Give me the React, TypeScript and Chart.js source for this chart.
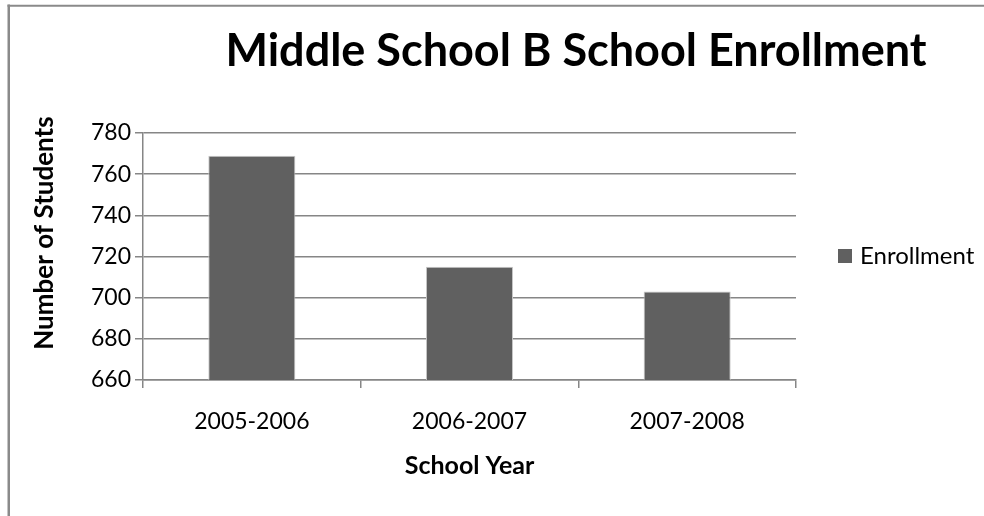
import { useEffect, useRef } from "react";
import { Chart, registerables } from "chart.js";

Chart.register(...registerables);

const chartTitle = "Middle School B School Enrollment";
const xAxisTitle = "School Year";
const yAxisTitle = "Number of Students";
const seriesName = "Enrollment";
const schoolYears = ["2005-2006", "2006-2007", "2007-2008"];
const enrollment = [769, 715, 703];
const yMin = 660;
const yMax = 780;
const yStep = 20;

const FONT = "Lato, 'Open Sans', sans-serif";
const BAR = "#606060";
const GRID = "#868686";

export default function App() {
  const ref = useRef<HTMLCanvasElement>(null);

  useEffect(() => {
    if (!ref.current) return;
    const decor = {
      id: "decor",
      beforeDraw(chart: any) {
        const ctx = chart.ctx;
        ctx.save();
        ctx.strokeStyle = "#8a8a8a";
        ctx.lineWidth = 2.5;
        ctx.beginPath();
        ctx.moveTo(8.75, 4.5);
        ctx.lineTo(8.75, 516);
        ctx.stroke();
        ctx.lineWidth = 2;
        ctx.beginPath();
        ctx.moveTo(7.5, 5.75);
        ctx.lineTo(984, 5.75);
        ctx.stroke();
        ctx.restore();
      },
      afterDraw(chart: any) {
        const ctx = chart.ctx;
        ctx.save();
        ctx.fillStyle = "#000";
        ctx.textAlign = "center";
        ctx.textBaseline = "middle";
        ctx.font = `bold 45px ${FONT}`;
        ctx.fillText(chartTitle, 576, 51);

        ctx.save();
        ctx.translate(45, 233);
        ctx.rotate(-Math.PI / 2);
        ctx.font = `bold 26px ${FONT}`;
        ctx.fillText(yAxisTitle, 0, 0);
        ctx.restore();

        const ds = chart.data.datasets[0];
        ctx.fillStyle = BAR;
        ctx.fillRect(838, 249, 14, 14);
        ctx.fillStyle = "#000";
        ctx.textAlign = "left";
        ctx.font = `24px ${FONT}`;
        ctx.fillText(ds.label, 860, 256);
        ctx.restore();
      },
    };

    const chart = new Chart(ref.current, {
      type: "bar",
      data: {
        labels: schoolYears,
        datasets: [
          {
            label: seriesName,
            data: enrollment,
            backgroundColor: BAR,
            borderColor: "#c8c8c8",
            borderWidth: 1,
            barPercentage: 0.4,
            categoryPercentage: 1,
          },
        ],
      },
      options: {
        animation: false,
        responsive: false,
        maintainAspectRatio: false,
        devicePixelRatio: 1,
        layout: { padding: { top: 133, right: 188, bottom: 0, left: 0 } },
        plugins: {
          legend: { display: false },
          title: { display: false },
          tooltip: { enabled: false },
        },
        scales: {
          x: {
            grid: {
              display: true,
              drawOnChartArea: false,
              drawTicks: true,
              tickLength: 8,
              offset: true,
              color: GRID,
              lineWidth: 1.5,
            },
            border: { color: GRID, width: 1.5 },
            ticks: { font: { family: FONT, size: 23 }, color: "#000", padding: 20 },
            title: {
              display: true,
              text: xAxisTitle,
              font: { family: FONT, size: 25, weight: "bold" },
              color: "#000",
              padding: { top: 0, bottom: 35 },
            },
            afterFit(s: any) {
              s.height = 136;
            },
          },
          y: {
            min: yMin,
            max: yMax,
            ticks: {
              stepSize: yStep,
              font: { family: FONT, size: 23 },
              color: "#000",
              padding: 4,
            },
            grid: { color: GRID, lineWidth: 1.5, tickLength: 8 },
            border: { color: GRID, width: 1.5 },
            afterFit(s: any) {
              s.width = 143;
            },
          },
        },
      },
      plugins: [decor],
    } as any);
    return () => chart.destroy();
  }, []);

  return (
    <div style={{ position: "absolute", left: 0, top: 0, width: 984, height: 516, background: "#fff" }}>
      <canvas ref={ref} width={984} height={516} style={{ display: "block" }} />
    </div>
  );
}
